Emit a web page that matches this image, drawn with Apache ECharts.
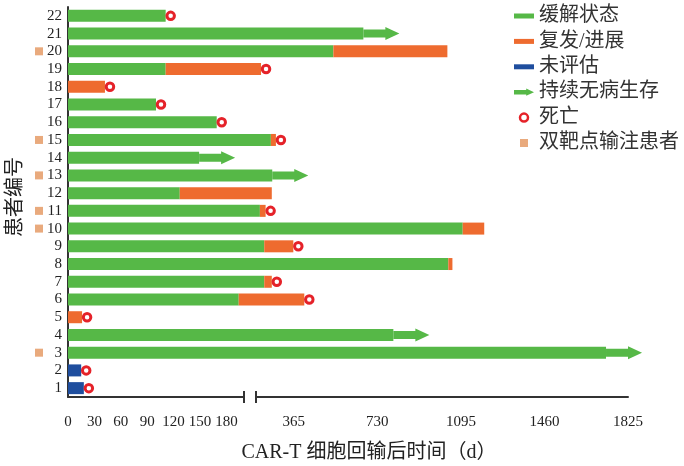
<!DOCTYPE html>
<html>
<head>
<meta charset="utf-8">
<script src="https://cdn.jsdelivr.net/npm/echarts@6/dist/echarts.min.js"></script>
<style>
html, body { margin: 0; padding: 0; background: #fff; }
#chart { width: 684px; height: 466px; }
</style>
</head>
<body>
<div id="chart"></div>
<script>
// 患者编号 1..22
var patients = ['1','2','3','4','5','6','7','8','9','10','11','12','13','14','15','16','17','18','19','20','21','22'];
// 各阶段持续时间(天)
var notEvaluated = [18, 15, 0, 0, 0, 0, 0, 0, 0, 0, 0, 0, 0, 0, 0, 0, 0, 0, 0, 0, 0, 0];
var remission = [0, 0, 1729, 800, 0, 194, 236, 1040, 236, 1103, 217, 127, 271, 149, 265, 169, 100, 0, 111, 538, 669, 111];
var relapse = [0, 0, 0, 0, 16, 217, 33, 18, 127, 94, 25, 142, 0, 0, 22, 0, 0, 42, 111, 498, 0, 0];
var deathIds = [1, 2, 5, 6, 7, 9, 11, 15, 16, 17, 18, 19, 22];
var dfsIds = [3, 4, 13, 14, 21];
var dualIds = [3, 10, 11, 13, 15, 20];
var tickDays = [0, 30, 60, 90, 120, 150, 180, 365, 730, 1095, 1460, 1825];

var green = '#56B847', orange = '#EE6B2F', blue = '#1F4E9E', red = '#E52229', tan = '#E9AA7D';
var serif = 'Liberation Serif, Noto Sans CJK SC';

// 断轴: 0-200天 左段, 200-1825天 右段
var breakDay = 200, maxDay = 1825, leftPx = 176, gapPx = 12, rightPx = 372;
function toAxis(d) {
	if (d <= breakDay) return d * leftPx / breakDay;
	return leftPx + gapPx + (d - breakDay) * rightPx / (maxDay - breakDay);
}
var axisMax = toAxis(maxDay);
var tickPos = tickDays.map(toAxis);

var blueData = [], greenData = [], orangeData = [], deathData = [], dfsData = [], dualData = [];
for (var i = 0; i < patients.length; i++) {
	var a = notEvaluated[i];
	var b = a + remission[i];
	var c = b + relapse[i];
	blueData.push(toAxis(a) - toAxis(0));
	greenData.push(toAxis(b) - toAxis(a));
	orangeData.push(toAxis(c) - toAxis(b));
	var id = i + 1;
	if (deathIds.indexOf(id) >= 0) deathData.push([toAxis(c), patients[i]]);
	if (dfsIds.indexOf(id) >= 0) dfsData.push([toAxis(c), patients[i]]);
	if (dualIds.indexOf(id) >= 0) dualData.push([0, patients[i]]);
}

var linePath = 'path://M0,0H20V5H0Z';
var arrowPath = 'path://M0,2.5H22V0L36,6.5L22,13V10.5H0Z';
var squarePath = 'path://M0,0H8V8H0Z';
var axisColor = '#333';

var myChart = echarts.init(document.getElementById('chart'));
var option = {
	animation: false,
	backgroundColor: '#fff',
	legend: {
		orient: 'vertical',
		left: 509,
		top: 0,
		itemWidth: 20,
		itemHeight: 8,
		itemGap: 3.4,
		textStyle: { fontSize: 20, lineHeight: 22, color: '#333', fontFamily: serif },
		data: [
			{ name: '缓解状态', icon: linePath },
			{ name: '复发/进展', icon: linePath },
			{ name: '未评估', icon: linePath },
			{ name: '持续无病生存', icon: arrowPath },
			{ name: '死亡', icon: 'circle', itemStyle: { color: '#fff', borderColor: red, borderWidth: 2.5 } },
			{ name: '双靶点输注患者', icon: squarePath }
		]
	},
	grid: [
		{ left: 68, top: 7, width: axisMax, height: 390, outerBoundsMode: 'none' },
		{ left: 68, top: 7, width: leftPx, height: 390, outerBoundsMode: 'none' },
		{ left: 68 + leftPx + gapPx, top: 7, width: rightPx, height: 390, outerBoundsMode: 'none' }
	],
	xAxis: [{
		gridIndex: 0,
		position: 'bottom',
		type: 'value',
		min: 0,
		max: axisMax,
		axisLine: { show: false },
		splitLine: { show: false },
		axisTick: {
			customValues: tickPos,
			inside: true,
			length: 5,
			lineStyle: { color: axisColor, width: 2 }
		},
		axisLabel: {
			customValues: tickPos,
			margin: 18,
			fontSize: 15,
			color: '#222',
			fontFamily: serif,
			formatter: function(v) {
				for (var k = 0; k < tickPos.length; k++) {
					if (Math.abs(tickPos[k] - v) < 0.01) return String(tickDays[k]);
				}
				return '';
			}
		},
		name: 'CAR-T 细胞回输后时间（d）',
		nameLocation: 'middle',
		nameGap: 46,
		nameTextStyle: { fontSize: 20, color: '#222', fontFamily: serif, padding: [0, 0, 0, 42] }
	}, {
		// 左段轴线
		gridIndex: 1, position: 'bottom', type: 'value', min: 0, max: breakDay,
		axisLine: { show: true, lineStyle: { color: axisColor, width: 2 } },
		axisTick: { show: false }, axisLabel: { show: false }, splitLine: { show: false }
	}, {
		// 右段轴线
		gridIndex: 2, position: 'bottom', type: 'value', min: breakDay, max: maxDay,
		axisLine: { show: true, lineStyle: { color: axisColor, width: 2 } },
		axisTick: { show: false }, axisLabel: { show: false }, splitLine: { show: false }
	}, {
		// 断点标记
		gridIndex: 1, position: 'bottom', type: 'value', min: 0, max: breakDay, offset: -6,
		axisLine: { show: false }, axisLabel: { show: false }, splitLine: { show: false },
		axisTick: { customValues: [breakDay], length: 12, lineStyle: { color: axisColor, width: 2 } }
	}, {
		gridIndex: 2, position: 'bottom', type: 'value', min: breakDay, max: maxDay, offset: -6,
		axisLine: { show: false }, axisLabel: { show: false }, splitLine: { show: false },
		axisTick: { customValues: [breakDay], length: 12, lineStyle: { color: axisColor, width: 2 } }
	}],
	yAxis: [{
		gridIndex: 0,
		type: 'category',
		data: patients,
		axisLine: { show: true, lineStyle: { color: axisColor, width: 2 } },
		axisTick: { show: false },
		axisLabel: { interval: 0, margin: 6, fontSize: 15, color: '#222', fontFamily: serif },
		name: '患者编号',
		nameLocation: 'middle',
		nameRotate: 90,
		nameGap: 42,
		nameTextStyle: { fontSize: 20, color: '#222', fontFamily: serif, padding: [0, 0, 0, 10] }
	}, {
		gridIndex: 1, type: 'value', show: false
	}, {
		gridIndex: 2, type: 'value', show: false
	}],
	series: [{
		name: '未评估',
		type: 'bar',
		stack: 'total',
		barWidth: 12,
		itemStyle: { color: blue },
		data: blueData
	}, {
		name: '缓解状态',
		type: 'bar',
		stack: 'total',
		barWidth: 12,
		itemStyle: { color: green },
		data: greenData
	}, {
		name: '复发/进展',
		type: 'bar',
		stack: 'total',
		barWidth: 12,
		itemStyle: { color: orange },
		data: orangeData
	}, {
		name: '持续无病生存',
		type: 'scatter',
		symbol: arrowPath,
		symbolSize: [36, 13],
		symbolOffset: [18, 0],
		itemStyle: { color: green, opacity: 1 },
		z: 3,
		clip: false,
		data: dfsData
	}, {
		name: '死亡',
		type: 'scatter',
		symbol: 'circle',
		symbolSize: 7.5,
		symbolOffset: [5, 0],
		itemStyle: { color: '#fff', borderColor: red, borderWidth: 3, opacity: 1 },
		z: 4,
		clip: false,
		data: deathData
	}, {
		name: '双靶点输注患者',
		type: 'scatter',
		symbol: 'rect',
		symbolSize: 8,
		symbolOffset: [-29, 0],
		itemStyle: { color: tan, opacity: 1 },
		clip: false,
		data: dualData
	}]
};
myChart.setOption(option);
</script>
</body>
</html>
